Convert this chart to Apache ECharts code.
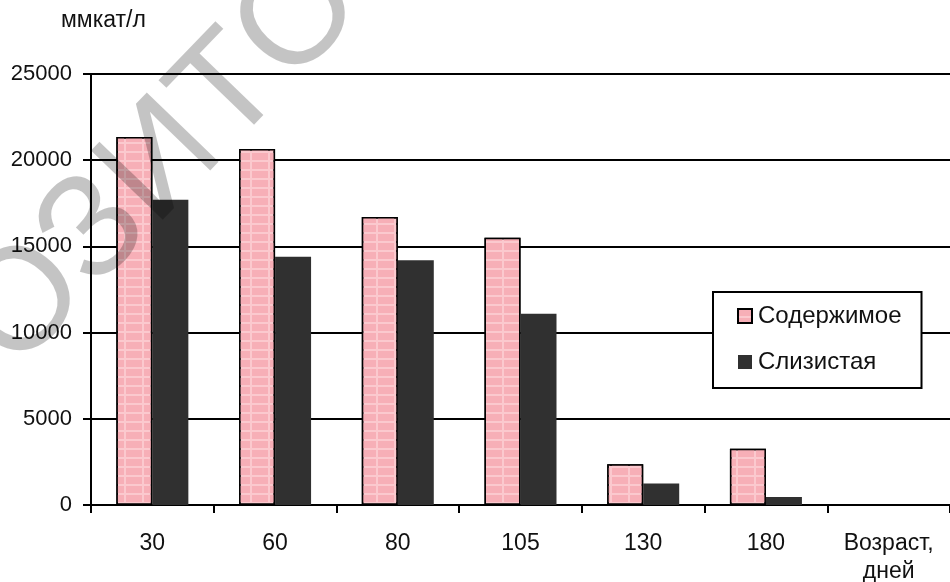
<!DOCTYPE html>
<html>
<head>
<meta charset="utf-8">
<script src="https://cdn.jsdelivr.net/npm/echarts@6/dist/echarts.min.js"></script>
<style>
  html, body { margin: 0; padding: 0; background: #fff; }
  #chart { width: 950px; height: 582px; }
</style>
</head>
<body>
<div id="chart"></div>
<script>
// Activity by age (days): gut contents vs. mucosa
const categories = ['30', '60', '80', '105', '130', '180', 'Возраст,\nдней'];
const contentsValues = [21350, 20650, 16700, 15500, 2370, 3270, null];
const mucosaValues = [17700, 14400, 14200, 11100, 1240, 470, null];
const yTicks = { min: 0, max: 25000, step: 5000 };
const unitLabel = 'ммкат/л';
const seriesNames = ['Содержимое', 'Слизистая'];

// repository stamp across the upper-left corner, one glyph per element
const stampGlyphs = ['О', 'З', 'И', 'Т', 'О', 'Р'];
const stampCenters = [[25, 305], [95, 232], [162, 163], [230, 92], [300, 19], [372, -55]];

const FONT = '"Liberation Sans", Arial, sans-serif';
const chart = echarts.init(document.getElementById('chart'), null, { renderer: 'canvas' });

const stamp = stampGlyphs.map((ch, i) => ({
  type: 'text',
  z: 100,
  x: stampCenters[i][0],
  y: stampCenters[i][1],
  rotation: 46 * Math.PI / 180,
  silent: true,
  style: {
    text: ch,
    font: '145px ' + FONT,
    fill: 'rgba(0,0,0,0.23)',
    textAlign: 'center',
    textVerticalAlign: 'middle'
  }
}));

chart.setOption({
  animation: false,
  backgroundColor: '#ffffff',
  aria: { enabled: true, decal: { show: true } },
  title: {
    text: unitLabel,
    left: 61,
    top: 9,
    padding: 0,
    textStyle: { fontFamily: FONT, fontSize: 23, fontWeight: 'normal', color: '#111' }
  },
  grid: { left: 91, right: 0, top: 74, bottom: 77, outerBoundsMode: 'none', containLabel: false },
  legend: {
    orient: 'vertical',
    left: 713,
    top: 292,
    padding: [12, 20, 14, 24],
    itemGap: 22,
    itemWidth: 14,
    itemHeight: 14,
    icon: 'rect',
    backgroundColor: '#ffffff',
    borderColor: '#000',
    borderWidth: 2,
    borderRadius: 0,
    textStyle: { fontFamily: FONT, fontSize: 24, color: '#111', lineHeight: 24, padding: [0, 0, 0, 1] },
    data: seriesNames
  },
  xAxis: {
    type: 'category',
    data: categories,
    boundaryGap: true,
    axisLine: { lineStyle: { color: '#000', width: 2 } },
    axisTick: { show: true, length: 8, lineStyle: { color: '#000', width: 2 } },
    axisLabel: {
      fontFamily: FONT, fontSize: 23, color: '#111', margin: 25, lineHeight: 28,
      align: 'center'
    },
    splitLine: { show: false }
  },
  yAxis: {
    type: 'value',
    min: yTicks.min,
    max: yTicks.max,
    interval: yTicks.step,
    axisLine: { show: true, lineStyle: { color: '#000', width: 2 } },
    axisTick: { show: true, length: 8, lineStyle: { color: '#000', width: 2 } },
    axisLabel: {
      fontFamily: FONT, fontSize: 22, color: '#111', margin: 19,
      formatter: (v) => String(v)
    },
    splitLine: { show: true, lineStyle: { color: '#000', width: 2 } }
  },
  series: [
    {
      name: seriesNames[0],
      type: 'bar',
      data: contentsValues,
      barWidth: 36,
      barGap: '0%',
      itemStyle: {
        color: '#fbc9ce',
        borderColor: '#000',
        borderWidth: 1.5,
        // pink tiles separated by thin light lines (checked fill)
        decal: {
          symbol: 'rect',
          symbolSize: 1,
          color: '#f7afb7',
          dashArrayX: [[16, 2]],
          dashArrayY: [7, 1.5],
          rotation: 0
        }
      }
    },
    {
      name: seriesNames[1],
      type: 'bar',
      data: mucosaValues,
      barWidth: 36,
      barGap: '0%',
      itemStyle: { color: '#303030', decal: { symbol: 'none' } }
    }
  ],
  graphic: stamp
});
</script>
</body>
</html>
